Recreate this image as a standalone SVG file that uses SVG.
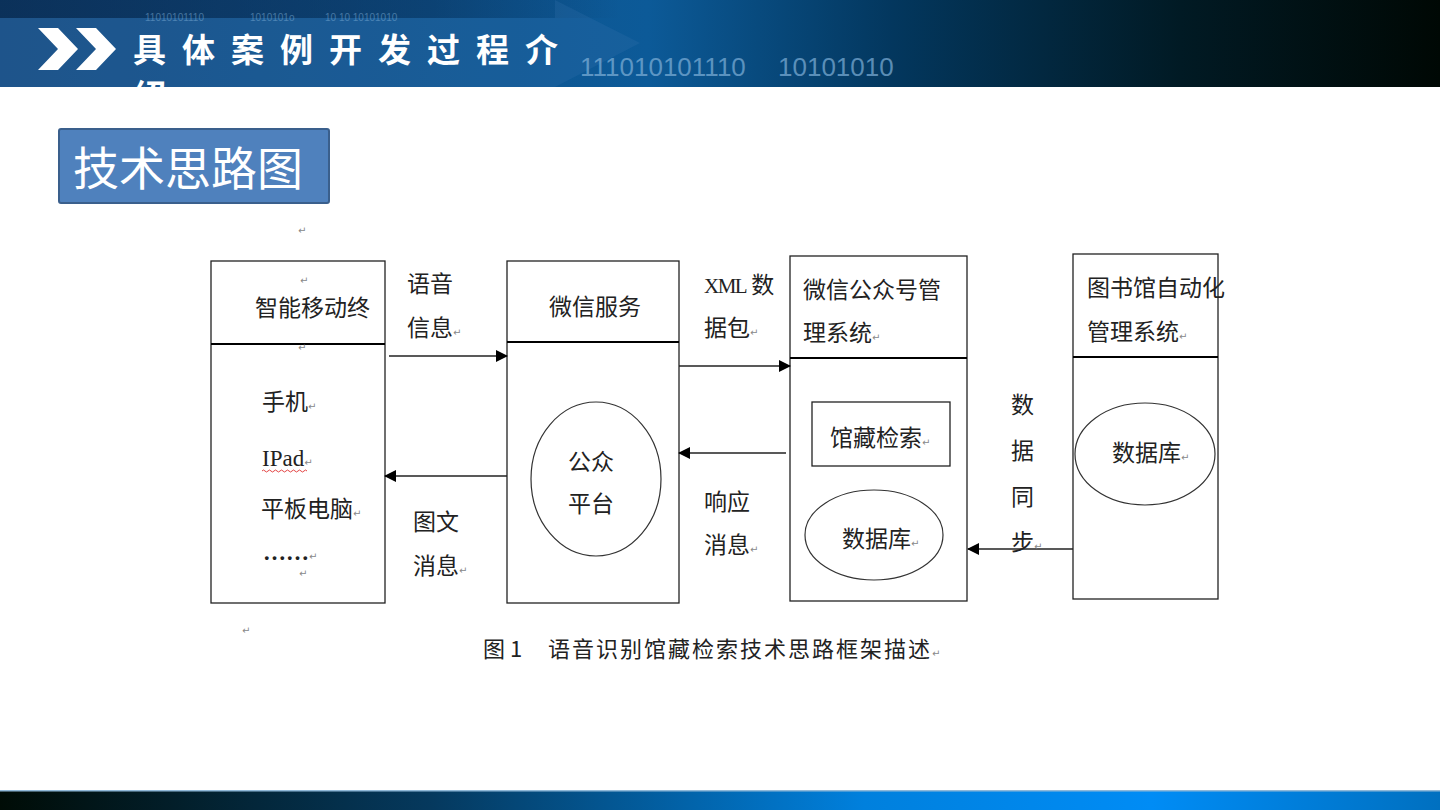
<svg xmlns="http://www.w3.org/2000/svg" width="1440" height="810" viewBox="0 0 1440 810">
<defs>
<linearGradient id="hdr" x1="0" y1="0" x2="1" y2="0">
<stop offset="0" stop-color="#174b80"/>
<stop offset="0.45" stop-color="#0c5a98"/>
<stop offset="0.62" stop-color="#03375e"/>
<stop offset="0.82" stop-color="#011a24"/>
<stop offset="1" stop-color="#000804"/>
</linearGradient>
<linearGradient id="top" x1="0" y1="0" x2="1" y2="0">
<stop offset="0" stop-color="#06264a" stop-opacity="0.7"/>
<stop offset="0.7" stop-color="#06264a" stop-opacity="0.4"/>
<stop offset="1" stop-color="#06264a" stop-opacity="0"/>
</linearGradient>
<linearGradient id="ftr" x1="0" y1="0" x2="1" y2="0">
<stop offset="0" stop-color="#000c06"/>
<stop offset="0.3" stop-color="#05395e"/>
<stop offset="0.6" stop-color="#0080dd"/>
<stop offset="0.8" stop-color="#008cf5"/>
<stop offset="1" stop-color="#0070c0"/>
</linearGradient>
<clipPath id="hclip"><rect x="0" y="0" width="1440" height="87"/></clipPath>
<marker id="ah" markerWidth="12" markerHeight="12" refX="11" refY="6" orient="auto" markerUnits="userSpaceOnUse">
<path d="M0,0 L12,6 L0,12 Z" fill="#000"/>
</marker>
</defs>
<style>
.box{fill:#fff;stroke:#222;stroke-width:1.3}
.div{stroke:#000;stroke-width:2.2}
.t{font-family:"Noto Sans CJK SC",sans-serif;font-size:23px;fill:#222}
.s{font-family:"Liberation Serif","Noto Sans CJK SC",serif;font-size:23px;fill:#222}
.rm{font-family:"DejaVu Sans",sans-serif;font-size:10px;fill:#888}
.con{stroke:#222;stroke-width:1.3;fill:none}
.bin{font-family:"Liberation Sans",sans-serif;fill:#7fb0d8}
</style>
<rect x="0" y="0" width="1440" height="810" fill="#fff"/>
<g id="header">
<rect x="0" y="0" width="1440" height="87" fill="url(#hdr)"/>
<rect x="0" y="0" width="620" height="18" fill="url(#top)"/>
<polygon points="0,18 555,18 555,0 640,43 555,87 0,87" fill="#3b76b0" opacity="0.22"/>
<g class="bin" opacity="0.5">
<text x="145" y="21" font-size="10">11010101110</text>
<text x="250" y="21" font-size="10">1010101o</text>
<text x="325" y="21" font-size="10">10 10 10101010</text>
</g>
<g class="bin" opacity="0.7">
<text x="580" y="76" font-size="26">111010101110</text>
<text x="778" y="76" font-size="26">10101010</text>
</g>
<g clip-path="url(#hclip)">
<text class="bin" x="445" y="96" font-size="12" opacity="0.5">11010101110   10101010   10 10 10101010</text>
<g fill="#fff">
<polygon points="38,28 58,28 78,49 58,70 38,70 58,49"/>
<polygon points="76,28 96,28 116,49 96,70 76,70 96,49"/>
</g>
<text x="133" y="62" font-family="'Noto Sans CJK SC',sans-serif" font-weight="bold" font-size="33" fill="#fff" letter-spacing="16">具体案例开发过程介</text>
<text x="133" y="108" font-family="'Noto Sans CJK SC',sans-serif" font-weight="bold" font-size="33" fill="#fff">绍</text>
</g>
</g>
<g id="footer">
<rect x="0" y="790" width="1440" height="20" fill="url(#ftr)"/>
<rect x="0" y="790" width="1440" height="1.5" fill="#8fb8d8"/>
</g>
<g id="label">
<rect x="59" y="129" width="270" height="74" rx="2" fill="#4f81bd" stroke="#3a5f8c" stroke-width="2"/>
<text x="73" y="185" font-family="'Noto Sans CJK SC',sans-serif" font-size="46" fill="#fff">技术思路图</text>
</g>
<text class="rm" x="298" y="234">↵</text>
<g id="terminal">
<rect class="box" x="211" y="261" width="174" height="342"/>
<line class="div" x1="211" y1="344" x2="385" y2="344"/>
<text class="rm" x="300" y="284">↵</text>
<text class="t" x="255" y="316">智能移动终</text>
<text class="rm" x="298" y="351">↵</text>
<text class="t" x="262" y="410">手机<tspan class="rm">↵</tspan></text>
<text class="s" x="262" y="466">IPad<tspan class="rm">↵</tspan></text>
<path d="M262,471 q1.5,-2 3,0 t3,0 t3,0 t3,0 t3,0 t3,0 t3,0 t3,0 t3,0 t3,0 t3,0 t3,0 t3,0 t3,0 t3,0" fill="none" stroke="#e03030" stroke-width="0.9"/>
<text class="t" x="261" y="517">平板电脑<tspan class="rm">↵</tspan></text>
<text class="s" x="263" y="560" font-weight="bold">……<tspan class="rm" font-weight="normal">↵</tspan></text>
<text class="rm" x="299" y="577">↵</text>
</g>
<g id="wechat-service">
<rect class="box" x="507" y="261" width="172" height="342"/>
<line class="div" x1="507" y1="342" x2="679" y2="342"/>
<text class="t" x="549" y="315">微信服务</text>
<ellipse cx="596" cy="479" rx="65" ry="77" fill="#fff" stroke="#333" stroke-width="1.2"/>
<text class="t" x="568" y="470">公众</text>
<text class="t" x="568" y="512">平台</text>
</g>
<g id="wechat-mgmt">
<rect class="box" x="790" y="256" width="177" height="345"/>
<line class="div" x1="790" y1="358" x2="967" y2="358"/>
<text class="t" x="803" y="298">微信公众号管</text>
<text class="t" x="803" y="341">理系统<tspan class="rm">↵</tspan></text>
<rect x="812" y="402" width="138" height="64" fill="#fff" stroke="#222" stroke-width="1.3"/>
<text class="t" x="830" y="446">馆藏检索<tspan class="rm">↵</tspan></text>
<ellipse cx="874" cy="535" rx="69" ry="45" fill="#fff" stroke="#333" stroke-width="1.2"/>
<text class="t" x="842" y="547">数据库<tspan class="rm">↵</tspan></text>
</g>
<g id="library-system">
<rect class="box" x="1073" y="254" width="145" height="345"/>
<line class="div" x1="1073" y1="357" x2="1218" y2="357"/>
<text class="t" x="1087" y="296">图书馆自动化</text>
<text class="t" x="1087" y="340">管理系统<tspan class="rm">↵</tspan></text>
<ellipse cx="1145" cy="454" rx="70" ry="51" fill="#fff" stroke="#333" stroke-width="1.2"/>
<text class="t" x="1112" y="461">数据库<tspan class="rm">↵</tspan></text>
</g>
<g id="connectors">
<line class="con" x1="389" y1="356" x2="507" y2="356" marker-end="url(#ah)"/>
<line class="con" x1="507" y1="476" x2="385" y2="476" marker-end="url(#ah)"/>
<line class="con" x1="679" y1="366" x2="790" y2="366" marker-end="url(#ah)"/>
<line class="con" x1="786" y1="453" x2="679" y2="453" marker-end="url(#ah)"/>
<line class="con" x1="1073" y1="549" x2="968" y2="549" marker-end="url(#ah)"/>
<text class="t" x="407" y="292">语音</text>
<text class="t" x="407" y="336">信息<tspan class="rm">↵</tspan></text>
<text class="t" x="413" y="530">图文</text>
<text class="t" x="413" y="574">消息<tspan class="rm">↵</tspan></text>
<text class="t" x="704" y="293"><tspan font-family="'Liberation Serif',serif" font-size="21" letter-spacing="-1.5">XML</tspan> 数</text>
<text class="t" x="704" y="336">据包<tspan class="rm">↵</tspan></text>
<text class="t" x="704" y="510">响应</text>
<text class="t" x="704" y="553">消息<tspan class="rm">↵</tspan></text>
<text class="t" x="1011" y="413">数</text>
<text class="t" x="1011" y="459">据</text>
<text class="t" x="1011" y="505">同</text>
<text class="t" x="1011" y="550">步<tspan class="rm">↵</tspan></text>
</g>
<text class="rm" x="242" y="634">↵</text>
<text x="483" y="657" font-family="'Noto Sans CJK SC',sans-serif" font-size="22" fill="#222">图 1</text>
<text x="548" y="657" font-family="'Noto Sans CJK SC',sans-serif" font-size="22" fill="#222" letter-spacing="2">语音识别馆藏检索技术思路框架描述<tspan class="rm" letter-spacing="0">↵</tspan></text>
</svg>
